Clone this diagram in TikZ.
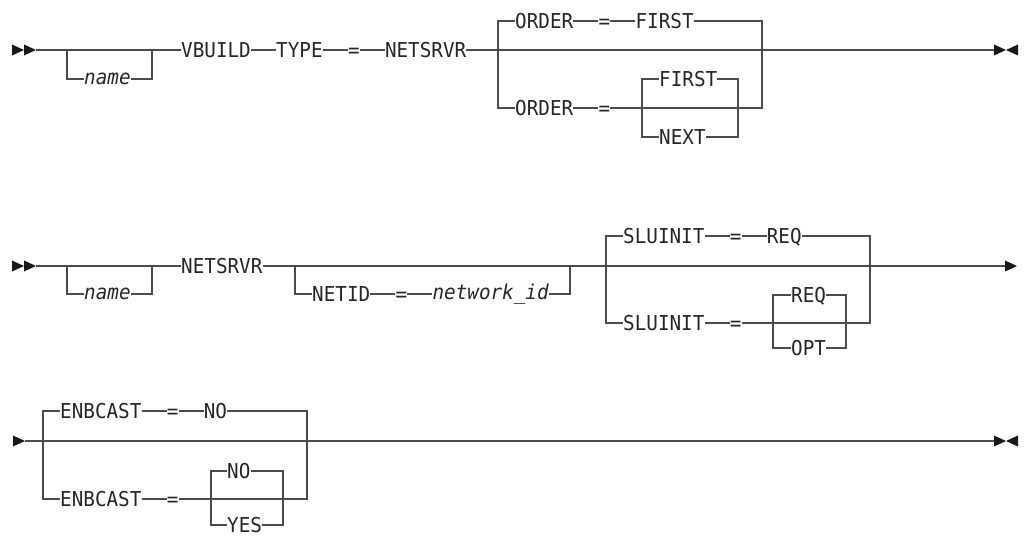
\documentclass[tikz,border=0pt]{standalone}
\usepackage{fontspec}
\setmonofont[FakeStretch=0.94]{DejaVu Sans Mono}
\usetikzlibrary{positioning}

\begin{document}
\begin{tikzpicture}[
  x=1pt, y=-1pt,
  node distance=0pt and 25pt,
  rail/.style={draw=black!70, line width=1.1pt},
  kw/.style={inner sep=0pt, text height=14.9pt, text depth=0pt, text=black!85, font=\ttfamily\fontsize{20.5}{21}\selectfont},
  var/.style={kw, text height=11.2pt, font=\ttfamily\itshape\fontsize{20.5}{21}\selectfont},
  tipR/.pic={\fill[black!90] (0,0) -- (-12,-5.5) -- (-12,5.5) -- cycle;},
  tipL/.pic={\fill[black!90] (0,0) -- (12,-5.5) -- (12,5.5) -- cycle;}
]
  \useasboundingbox (0,0) rectangle (1024,536);

  % first diagram: VBUILD
  \coordinate (r1s) at (36,50);
  \coordinate (r1e) at (994,50);
  \coordinate (n1l) at (67,50);
  \coordinate (n1r) at (152,50);
  \coordinate (b1l) at (498,50);
  \coordinate (b1r) at (762,50);
  \coordinate (c1l) at (642,108);
  \coordinate (c1r) at (738,108);

  \node[var, anchor=west] (name1) at (84,79) {name};
  \node[kw, anchor=west] (vbuild) at (181,50) {VBUILD};
  \node[kw, right=of vbuild] (type) {TYPE};
  \node[kw, right=of type] (eq1) {=};
  \node[kw, right=of eq1] (netsrvr1) {NETSRVR};

  \node[kw, anchor=west] (order1) at (515,21) {ORDER};
  \node[kw, right=of order1] (eq2) {=};
  \node[kw, right=of eq2] (first1) {FIRST};
  \node[kw, anchor=west] (order2) at (515,108) {ORDER};
  \node[kw, right=of order2] (eq3) {=};
  \node[kw, anchor=west] (first2) at (659,79) {FIRST};
  \node[kw, anchor=west] (next) at (659,137) {NEXT};

  \pic at (24,50) {tipR};
  \pic at (36,50) {tipR};
  \draw[rail] (r1s) -- (vbuild);
  \draw[rail] (n1l) |- (name1.west);
  \draw[rail] (name1.east) -| (n1r);
  \draw[rail] (vbuild) -- (type) -- (eq1) -- (netsrvr1);
  \draw[rail] (netsrvr1) -- (r1e);
  \draw[rail] (order1.west) -| (b1l |- order2.west) -- (order2.west);
  \draw[rail] (order1) -- (eq2) -- (first1);
  \draw[rail] (first1.east) -| (b1r |- eq3.east) -- (eq3.east);
  \draw[rail] (order2) -- (eq3);
  \draw[rail] (first2.west) -| (c1l |- next.west) -- (next.west);
  \draw[rail] (first2.east) -| (c1r |- next.east) -- (next.east);
  \pic at (1006,50) {tipR};
  \pic at (1006,50) {tipL};

  % second diagram: NETSRVR
  \coordinate (r2s) at (36,266);
  \coordinate (r2e) at (1005,266);
  \coordinate (n2l) at (67,266);
  \coordinate (n2r) at (152,266);
  \coordinate (d2l) at (295,266);
  \coordinate (d2r) at (570,266);
  \coordinate (b2l) at (606,266);
  \coordinate (b2r) at (870,266);
  \coordinate (c2l) at (773,323);
  \coordinate (c2r) at (846,323);

  \node[var, anchor=west] (name2) at (84,294) {name};
  \node[kw, anchor=west] (netsrvr2) at (181,266) {NETSRVR};
  \node[kw, anchor=west] (netid) at (312,294) {NETID};
  \node[kw, right=of netid] (eq4) {=};
  \node[var, right=of eq4] (netwid) {network\_id};

  \node[kw, anchor=west] (slu1) at (623,236) {SLUINIT};
  \node[kw, right=of slu1] (eq5) {=};
  \node[kw, right=of eq5] (req1) {REQ};
  \node[kw, anchor=west] (slu2) at (623,323) {SLUINIT};
  \node[kw, right=of slu2] (eq6) {=};
  \node[kw, anchor=west] (req2) at (791,295) {REQ};
  \node[kw, anchor=west] (opt) at (791,348) {OPT};

  \pic at (24,266) {tipR};
  \pic at (36,266) {tipR};
  \draw[rail] (r2s) -- (netsrvr2);
  \draw[rail] (n2l) |- (name2.west);
  \draw[rail] (name2.east) -| (n2r);
  \draw[rail] (netsrvr2) -- (r2e);
  \draw[rail] (d2l) |- (netid.west);
  \draw[rail] (netid) -- (eq4) -- (netwid);
  \draw[rail] (netwid.east) -| (d2r);
  \draw[rail] (slu1.west) -| (b2l |- slu2.west) -- (slu2.west);
  \draw[rail] (slu1) -- (eq5) -- (req1);
  \draw[rail] (req1.east) -| (b2r |- eq6.east) -- (eq6.east);
  \draw[rail] (slu2) -- (eq6);
  \draw[rail] (req2.west) -| (c2l |- opt.west) -- (opt.west);
  \draw[rail] (req2.east) -| (c2r |- opt.east) -- (opt.east);
  \pic at (1017,266) {tipR};

  % third diagram: ENBCAST
  \coordinate (r3s) at (25,441);
  \coordinate (r3e) at (994,441);
  \coordinate (b3l) at (43,441);
  \coordinate (b3r) at (307,441);
  \coordinate (c3l) at (211,499);
  \coordinate (c3r) at (283,499);

  \node[kw, anchor=west] (enb1) at (60,411) {ENBCAST};
  \node[kw, right=of enb1] (eq7) {=};
  \node[kw, right=of eq7] (no1) {NO};
  \node[kw, anchor=west] (enb2) at (60,499) {ENBCAST};
  \node[kw, right=of enb2] (eq8) {=};
  \node[kw, anchor=west] (no2) at (227,471) {NO};
  \node[kw, anchor=west] (yes) at (227,525) {YES};

  \pic at (25,441) {tipR};
  \draw[rail] (r3s) -- (r3e);
  \draw[rail] (enb1.west) -| (b3l |- enb2.west) -- (enb2.west);
  \draw[rail] (enb1) -- (eq7) -- (no1);
  \draw[rail] (no1.east) -| (b3r |- eq8.east) -- (eq8.east);
  \draw[rail] (enb2) -- (eq8);
  \draw[rail] (no2.west) -| (c3l |- yes.west) -- (yes.west);
  \draw[rail] (no2.east) -| (c3r |- yes.east) -- (yes.east);
  \pic at (1006,441) {tipR};
  \pic at (1006,441) {tipL};
\end{tikzpicture}
\end{document}
